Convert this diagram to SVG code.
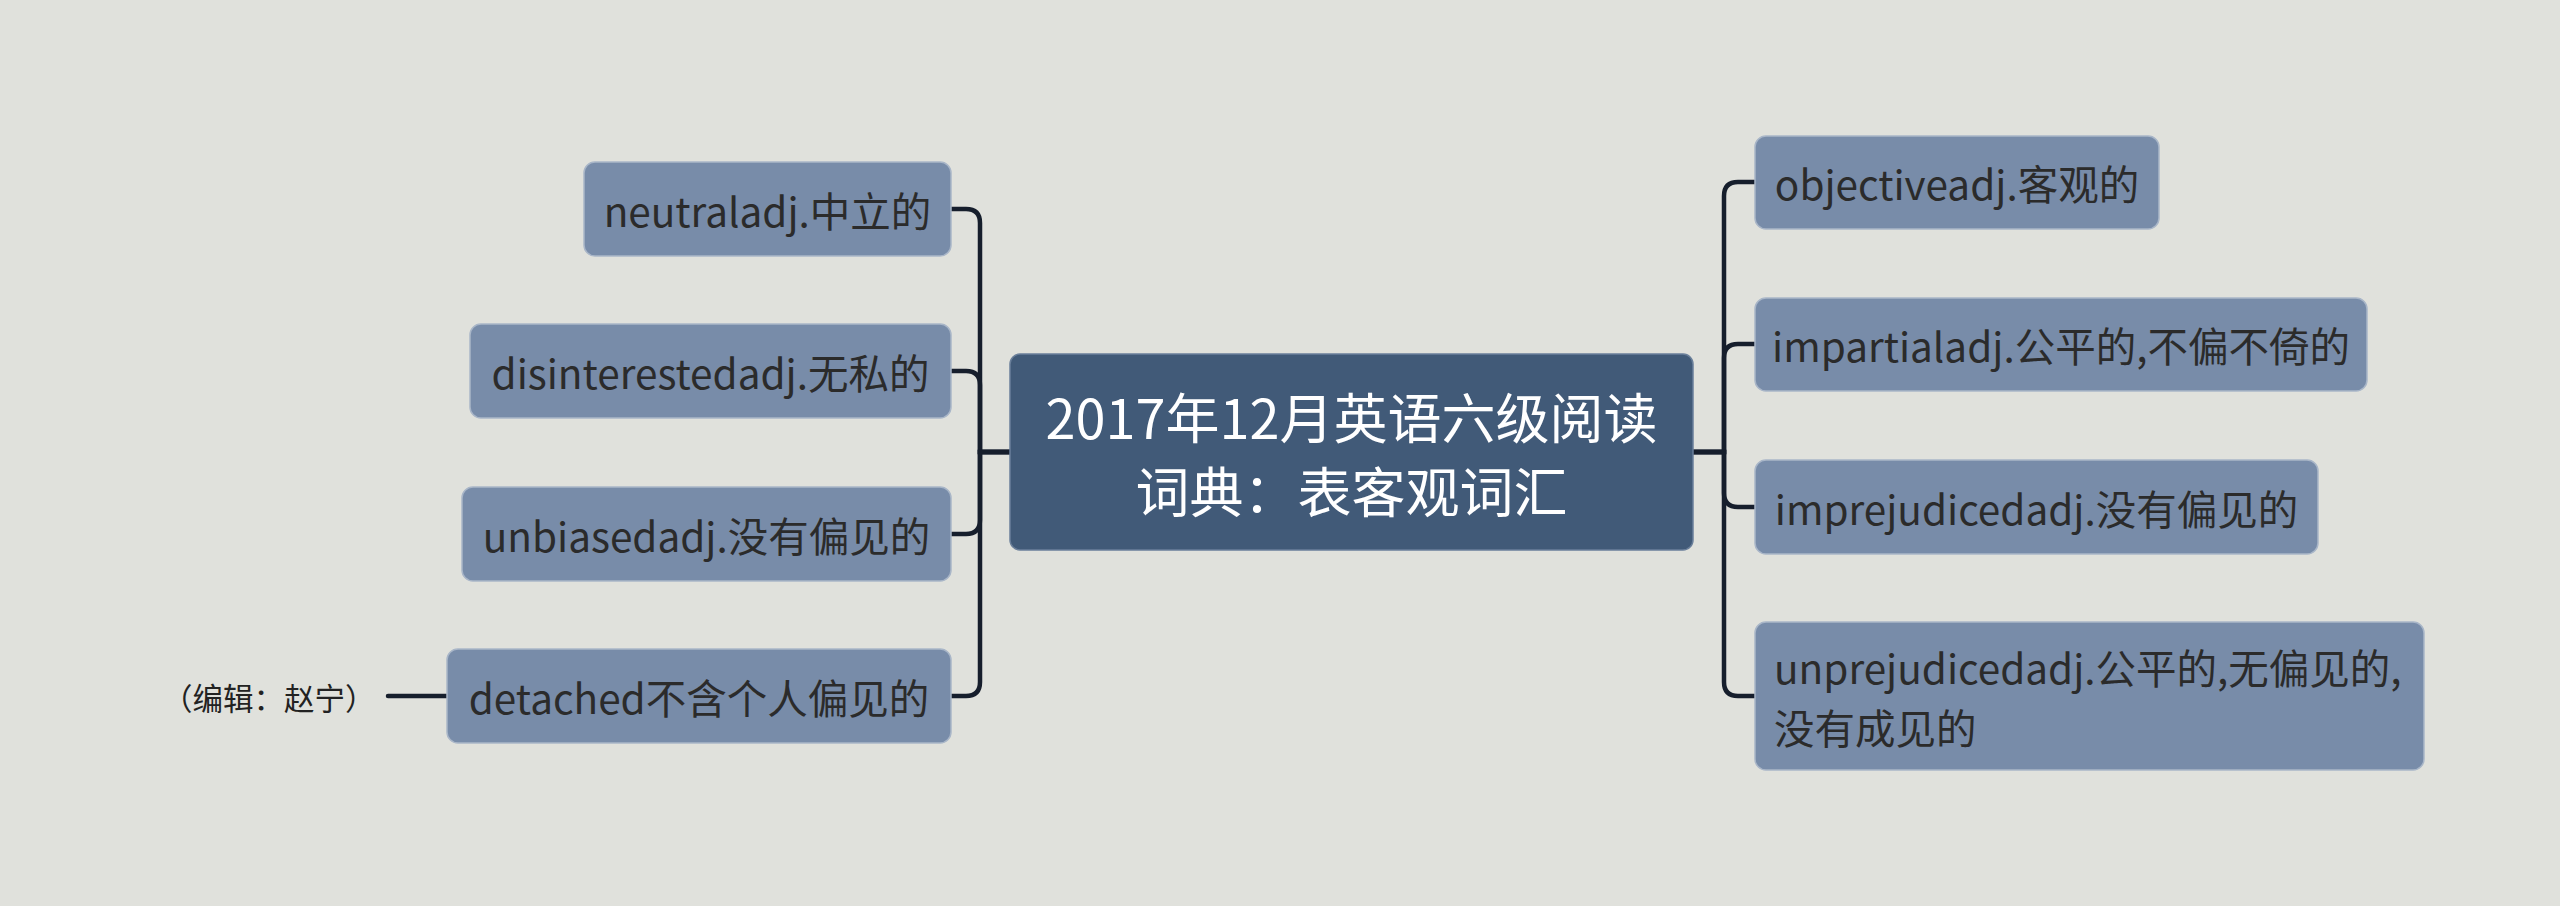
<svg xmlns="http://www.w3.org/2000/svg" width="2560" height="906" viewBox="0 0 2560 906">
<style>
.bg{fill:#e0e1dc}
.child rect{fill:#788ca9;stroke:#a9b6c8;stroke-width:1.5}
.child text{font-family:"Noto Sans CJK SC","Liberation Sans",sans-serif;font-size:40.5px;fill:#2b2b2b;dominant-baseline:central}
.root rect{fill:#415a78;stroke:#6a7f9a;stroke-width:1.5}
.root text{font-family:"Noto Sans CJK SC","Liberation Sans",sans-serif;font-size:54px;fill:#ffffff;dominant-baseline:central;text-anchor:middle}
.note text{font-family:"Noto Sans CJK SC","Liberation Sans",sans-serif;font-size:30.5px;fill:#222222;dominant-baseline:central}
.conn path{fill:none;stroke:#161e2c;stroke-width:4.5;stroke-linecap:round}
</style>
<rect class="bg" x="0" y="0" width="2560" height="906"/>
<g class="conn" id="connectors">
<path d="M1010,452 H980 V223 Q980,209 966,209 H951"/>
<path d="M1010,452 H980 V385 Q980,371 966,371 H951"/>
<path d="M1010,452 H980 V520 Q980,534 966,534 H951"/>
<path d="M1010,452 H980 V682 Q980,696 966,696 H951"/>
<path d="M1693,452 H1724 V196 Q1724,182 1738,182 H1755"/>
<path d="M1693,452 H1724 V358 Q1724,344 1738,344 H1755"/>
<path d="M1693,452 H1724 V493 Q1724,507 1738,507 H1755"/>
<path d="M1693,452 H1724 V682 Q1724,696 1738,696 H1755"/>
<path d="M388,696 H447"/>
</g>
<g class="root" id="root">
<rect x="1010" y="354" width="683" height="196" rx="10"/>
<text><tspan x="1351.5" y="415">2017年12月英语六级阅读</tspan><tspan x="1351.5" y="489">词典：表客观词汇</tspan></text>
</g>
<g class="child" id="n-neutral">
<rect x="584" y="162" width="367" height="94" rx="11"/>
<text x="767.5" y="209" text-anchor="middle">neutraladj.中立的</text>
</g>
<g class="child" id="n-disinterested">
<rect x="470" y="324" width="481" height="94" rx="11"/>
<text x="710.5" y="371" text-anchor="middle">disinterestedadj.无私的</text>
</g>
<g class="child" id="n-unbiased">
<rect x="462" y="487" width="489" height="94" rx="11"/>
<text x="706.5" y="534" text-anchor="middle">unbiasedadj.没有偏见的</text>
</g>
<g class="child" id="n-detached">
<rect x="447" y="649" width="504" height="94" rx="11"/>
<text x="699" y="696" text-anchor="middle">detached不含个人偏见的</text>
</g>
<g class="note" id="n-editor">
<text x="162" y="697">（编辑：赵宁）</text>
</g>
<g class="child" id="n-objective">
<rect x="1755" y="136" width="404" height="93" rx="11"/>
<text x="1957" y="182" text-anchor="middle">objectiveadj.客观的</text>
</g>
<g class="child" id="n-impartial">
<rect x="1755" y="298" width="612" height="93" rx="11"/>
<text x="2061" y="344" text-anchor="middle">impartialadj.公平的,不偏不倚的</text>
</g>
<g class="child" id="n-imprejudiced">
<rect x="1755" y="460" width="563" height="94" rx="11"/>
<text x="2036.5" y="507" text-anchor="middle">imprejudicedadj.没有偏见的</text>
</g>
<g class="child" id="n-unprejudiced">
<rect x="1755" y="622" width="669" height="148" rx="11"/>
<text><tspan x="1774" y="666">unprejudicedadj.公平的,无偏见的,</tspan><tspan x="1774" y="726">没有成见的</tspan></text>
</g>
</svg>
